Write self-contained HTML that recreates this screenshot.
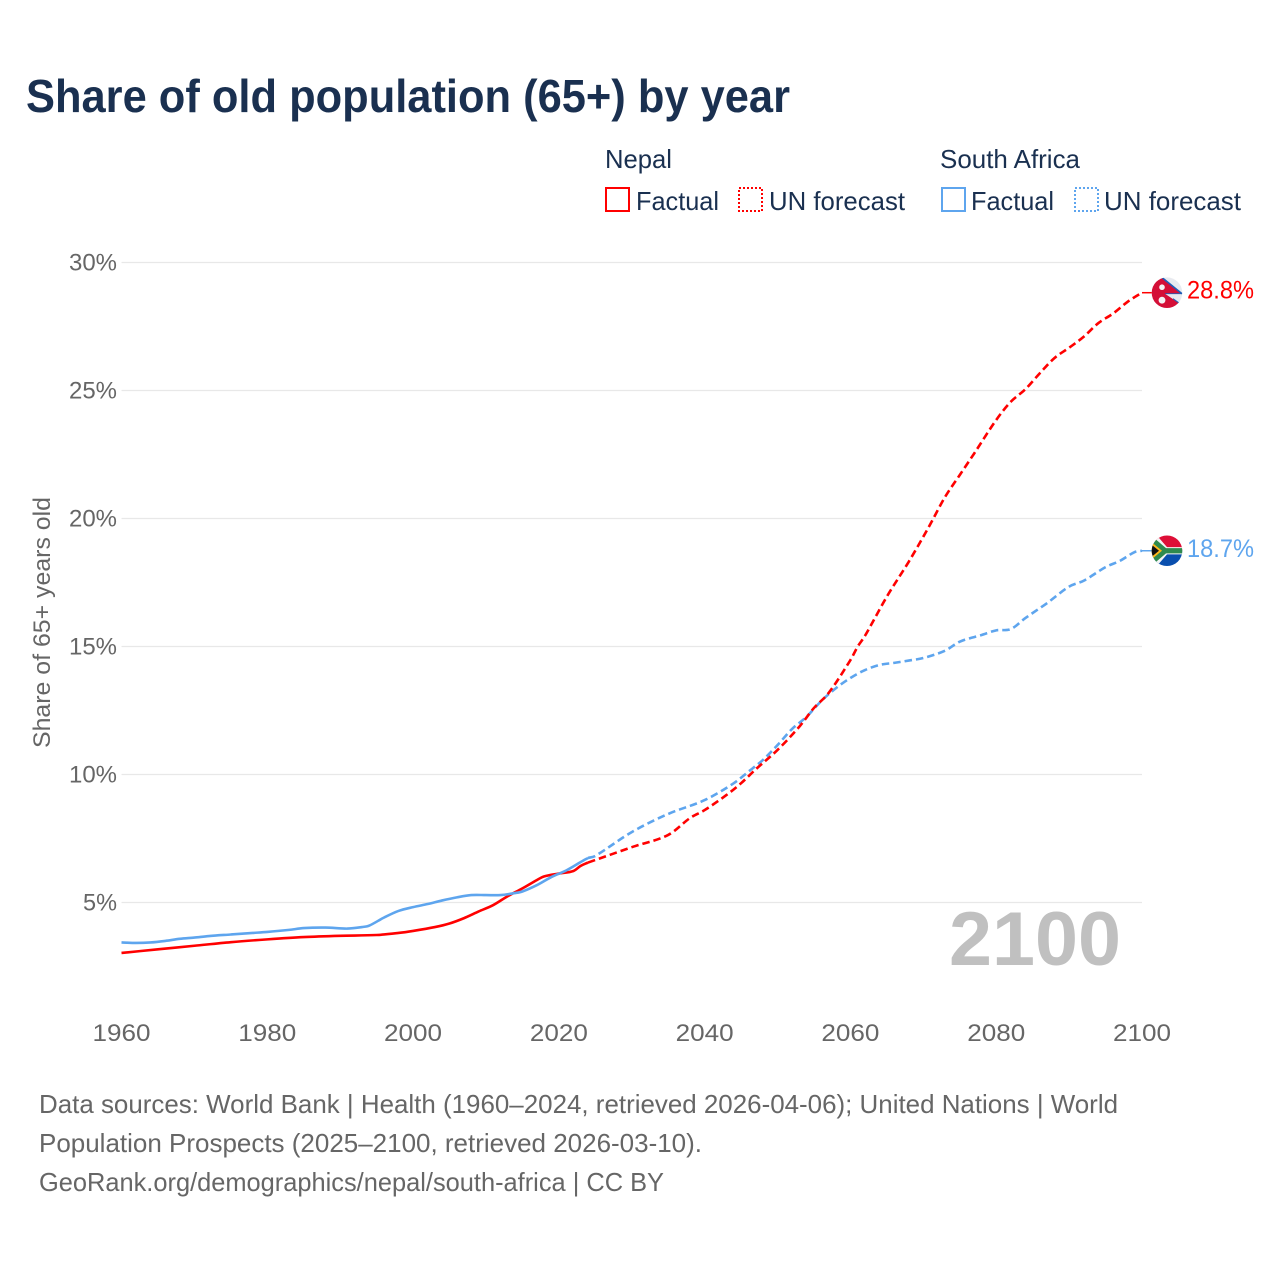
<!DOCTYPE html>
<html lang="en">
<head>
<meta charset="utf-8">
<title>Share of old population (65+) by year</title>
<style>
html,body{margin:0;padding:0;background:#fff;}
svg{display:block;}
text{font-family:"Liberation Sans",sans-serif;}
</style>
</head>
<body>
<svg id="chart" xmlns="http://www.w3.org/2000/svg" width="1280" height="1280" viewBox="0 0 1280 1280">
  <rect width="1280" height="1280" fill="#fff"/>
  <text x="26" y="112" font-size="46" font-weight="700" fill="#1a3050" textLength="764" lengthAdjust="spacingAndGlyphs">Share of old population (65+) by year</text>

  <g font-size="26" fill="#1a3050">
    <text x="605" y="168" textLength="67" lengthAdjust="spacingAndGlyphs">Nepal</text>
    <g>
      <rect x="606" y="188" width="23" height="23" fill="none" stroke="#ff0000" stroke-width="2"/>
      <text x="636" y="210" textLength="83" lengthAdjust="spacingAndGlyphs">Factual</text>
    </g>
    <g>
      <rect x="739" y="188" width="23" height="23" fill="none" stroke="#ff0000" stroke-width="2" stroke-dasharray="2 2"/>
      <text x="769" y="210" textLength="136" lengthAdjust="spacingAndGlyphs">UN forecast</text>
    </g>
    <text x="940" y="168" textLength="140" lengthAdjust="spacingAndGlyphs">South Africa</text>
    <g>
      <rect x="942" y="188" width="23" height="23" fill="none" stroke="#5ea5ee" stroke-width="2"/>
      <text x="971" y="210" textLength="83" lengthAdjust="spacingAndGlyphs">Factual</text>
    </g>
    <g>
      <rect x="1075" y="188" width="23" height="23" fill="none" stroke="#5ea5ee" stroke-width="2" stroke-dasharray="2 2"/>
      <text x="1104" y="210" textLength="137" lengthAdjust="spacingAndGlyphs">UN forecast</text>
    </g>
  </g>

  <g id="grid"></g>
  <g id="yticks"></g>
  <g id="xticks"></g>

  <text transform="translate(50,748) rotate(-90)" font-size="24" fill="#666666" textLength="251" lengthAdjust="spacingAndGlyphs">Share of 65+ years old</text>

  <text x="949" y="965" font-size="76" font-weight="700" fill="#c0c0c0" textLength="172" lengthAdjust="spacingAndGlyphs">2100</text>

  <g id="series"></g>

  <defs>
    <clipPath id="flag-clip"><circle cx="0" cy="0" r="15.3"/></clipPath>
  </defs>

  <g id="flag-nepal">
    <g clip-path="url(#flag-clip)">
      <rect x="-16" y="-16" width="32" height="32" fill="#e8eaef"/>
      <path d="M-16,-16 L-6,-16 L15,1 L-2,1 L13,11 L13,16 L-16,16 Z" fill="#d40f37"/>
      <path d="M-6,-16 L15,1" fill="none" stroke="#1f5fb8" stroke-width="1.6"/>
      <path d="M-2,1 L15,1" fill="none" stroke="#1f5fb8" stroke-width="0.8"/>
      <path d="M6,6 L13,11" fill="none" stroke="#1f5fb8" stroke-width="1"/>
      <circle cx="-5" cy="-5.5" r="2.8" fill="#f4f4f4"/>
      <circle cx="-5" cy="7.5" r="3.4" fill="#f4f4f4"/>
    </g>
  </g>

  <g id="flag-south-africa">
    <g clip-path="url(#flag-clip)">
      <rect x="-16" y="-16" width="32" height="16" fill="#de0f37"/>
      <rect x="-16" y="0" width="32" height="16" fill="#0a4fae"/>
      <path d="M-16,-16 L-9,-14 L0,-3.6 L16,-3.6 L16,3.6 L0,3.6 L-9,14 L-16,16 Z" fill="#f4f4f4"/>
      <path d="M-16,-14 L-12,-12 L-1,-2.6 L16,-2.6 L16,2.6 L-1,2.6 L-12,12 L-16,14 Z" fill="#2f8a4e"/>
      <path d="M-16,-9 L-5,0 L-16,9 Z" fill="#ffb81c"/>
      <path d="M-16,-6.5 L-8,0 L-16,6.5 Z" fill="#111"/>
    </g>
  </g>

  <g font-size="26" fill="#666666">
    <text x="39" y="1113" textLength="1079" lengthAdjust="spacingAndGlyphs">Data sources: World Bank | Health (1960–2024, retrieved 2026-04-06); United Nations | World</text>
    <text x="39" y="1152" textLength="663" lengthAdjust="spacingAndGlyphs">Population Prospects (2025–2100, retrieved 2026-03-10).</text>
    <text x="39" y="1191" textLength="625" lengthAdjust="spacingAndGlyphs">GeoRank.org/demographics/nepal/south-africa | CC BY</text>
  </g>
</svg>

<script>
const xTickLabels = [1960, 1980, 2000, 2020, 2040, 2060, 2080, 2100];
const yTickLabels = [5, 10, 15, 20, 25, 30];

const nepalFactualYears = [1960, 1965, 1970, 1975, 1980, 1985, 1990, 1995, 1998, 2000, 2003, 2005, 2007, 2009, 2011, 2013, 2015, 2017, 2018, 2020, 2022, 2023, 2024];
const nepalFactualValues = [3.03, 3.17, 3.31, 3.45, 3.56, 3.65, 3.70, 3.73, 3.81, 3.89, 4.04, 4.18, 4.39, 4.65, 4.90, 5.25, 5.55, 5.88, 6.02, 6.13, 6.23, 6.43, 6.56];

const nepalForecastYears = [2024, 2025, 2030, 2035, 2038, 2040, 2043, 2045, 2047, 2050, 2053, 2055, 2057, 2060, 2061, 2062, 2065, 2068, 2070, 2071, 2073, 2075, 2077, 2080, 2082, 2084, 2086, 2088, 2090, 2092, 2094, 2096, 2098, 2099, 2100];
const nepalForecastValues = [6.56, 6.66, 7.16, 7.64, 8.30, 8.61, 9.20, 9.66, 10.20, 10.96, 11.87, 12.60, 13.18, 14.47, 15.00, 15.42, 16.95, 18.31, 19.29, 19.80, 20.85, 21.70, 22.55, 23.85, 24.56, 25.05, 25.68, 26.27, 26.67, 27.10, 27.63, 28.00, 28.46, 28.65, 28.82];

const southAfricaFactualYears = [1960, 1962, 1964, 1966, 1968, 1970, 1972, 1975, 1978, 1980, 1983, 1985, 1988, 1991, 1993, 1994, 1996, 1998, 2000, 2002, 2004, 2006, 2008, 2010, 2012, 2014, 2015, 2017, 2019, 2021, 2023, 2024];
const southAfricaFactualValues = [3.44, 3.42, 3.44, 3.50, 3.58, 3.63, 3.69, 3.75, 3.81, 3.85, 3.93, 4.00, 4.02, 3.98, 4.04, 4.10, 4.41, 4.67, 4.82, 4.94, 5.08, 5.20, 5.29, 5.29, 5.29, 5.37, 5.43, 5.68, 6.00, 6.25, 6.58, 6.74];

const southAfricaForecastYears = [2024, 2025, 2030, 2035, 2040, 2044, 2046, 2048, 2050, 2052, 2054, 2056, 2058, 2060, 2062, 2064, 2066, 2068, 2070, 2073, 2075, 2078, 2080, 2082, 2084, 2087, 2090, 2092, 2095, 2097, 2099, 2100];
const southAfricaForecastValues = [6.74, 6.82, 7.75, 8.46, 9.00, 9.66, 10.11, 10.57, 11.15, 11.78, 12.26, 12.87, 13.37, 13.77, 14.08, 14.28, 14.36, 14.45, 14.55, 14.84, 15.19, 15.45, 15.63, 15.68, 16.11, 16.70, 17.34, 17.57, 18.10, 18.35, 18.69, 18.74];

const SVG_NS = 'http://www.w3.org/2000/svg';
const RED = '#ff0000';
const BLUE = '#5ea5ee';

function xScale(year) { return 121.5 + (year - 1960) * (1142 - 121.5) / 140; }
function yScale(value) { return 902.5 - (value - 5) * 25.6; }

function make(tag, attrs, parent) {
  const node = document.createElementNS(SVG_NS, tag);
  Object.keys(attrs).forEach(function (k) { node.setAttribute(k, attrs[k]); });
  parent.appendChild(node);
  return node;
}

function pathFrom(years, values) {
  const pts = years.map(function (yr, i) { return [xScale(yr), yScale(values[i])]; });
  let d = 'M' + pts[0][0].toFixed(2) + ',' + pts[0][1].toFixed(2);
  for (let i = 0; i < pts.length - 1; i++) {
    const p0 = pts[Math.max(i - 1, 0)];
    const p1 = pts[i];
    const p2 = pts[i + 1];
    const p3 = pts[Math.min(i + 2, pts.length - 1)];
    const h = p2[0] - p1[0];
    const s1 = (p2[1] - p0[1]) / (p2[0] - p0[0]);
    const s2 = (p3[1] - p1[1]) / (p3[0] - p1[0]);
    d += ' C' + (p1[0] + h / 3).toFixed(2) + ',' + (p1[1] + s1 * h / 3).toFixed(2) + ' ' +
         (p2[0] - h / 3).toFixed(2) + ',' + (p2[1] - s2 * h / 3).toFixed(2) + ' ' +
         p2[0].toFixed(2) + ',' + p2[1].toFixed(2);
  }
  return d;
}

const gridGroup = document.getElementById('grid');
const yTickGroup = document.getElementById('yticks');
const xTickGroup = document.getElementById('xticks');
const seriesGroup = document.getElementById('series');
const svgRoot = document.getElementById('chart');

yTickLabels.forEach(function (v) {
  const line = make('line', { x1: xScale(1960), x2: xScale(2100), y1: yScale(v), y2: yScale(v), stroke: '#e8e8e8', 'stroke-width': 1.3 }, gridGroup);
  
  
  const label = make('text', { x: 117, y: yScale(v) + 8, 'font-size': 24, fill: '#666666', 'text-anchor': 'end', textLength: v < 10 ? 34 : 48, lengthAdjust: 'spacingAndGlyphs' }, yTickGroup);
  
  
  label.textContent = v + '%';
});

xTickLabels.forEach(function (yr) {
  const label = make('text', { x: xScale(yr), y: 1041, 'font-size': 24, fill: '#666666', 'text-anchor': 'middle', textLength: 58, lengthAdjust: 'spacingAndGlyphs' }, xTickGroup);
  
  
  label.textContent = yr;
});

function drawSeries(name, years, values, colour, dashed) {
  const attrs = { d: pathFrom(years, values), fill: 'none', stroke: colour, 'stroke-width': 2.6, 'stroke-linejoin': 'round' };
  if (dashed) { attrs['stroke-dasharray'] = '7.5 4'; }
  const p = make('path', attrs, seriesGroup);
  
  
}

drawSeries('south-africa-forecast-line', southAfricaForecastYears, southAfricaForecastValues, BLUE, true);
drawSeries('nepal-forecast-line', nepalForecastYears, nepalForecastValues, RED, true);
drawSeries('nepal-factual-line', nepalFactualYears, nepalFactualValues, RED, false);
drawSeries('south-africa-factual-line', southAfricaFactualYears, southAfricaFactualValues, BLUE, false);

function drawEnd(name, flagId, years, values, colour) {
  const lastYear = years[years.length - 1];
  const lastValue = values[values.length - 1];
  const ex = xScale(lastYear);
  const ey = yScale(lastValue);
  const connector = make('line', { x1: ex, x2: ex + 12, y1: ey, y2: ey, stroke: colour, 'stroke-width': 1.5 }, seriesGroup);
  
  
  document.getElementById(flagId).setAttribute('transform', 'translate(' + (ex + 25) + ',' + ey + ')');
  const label = make('text', { x: ex + 45, y: ey + 6, 'font-size': 25, fill: colour, textLength: 67, lengthAdjust: 'spacingAndGlyphs' }, svgRoot);
  
  
  label.textContent = lastValue.toFixed(1) + '%';
}

drawEnd('nepal', 'flag-nepal', nepalForecastYears, nepalForecastValues, RED);
drawEnd('south-africa', 'flag-south-africa', southAfricaForecastYears, southAfricaForecastValues, BLUE);
</script>
</body>
</html>
